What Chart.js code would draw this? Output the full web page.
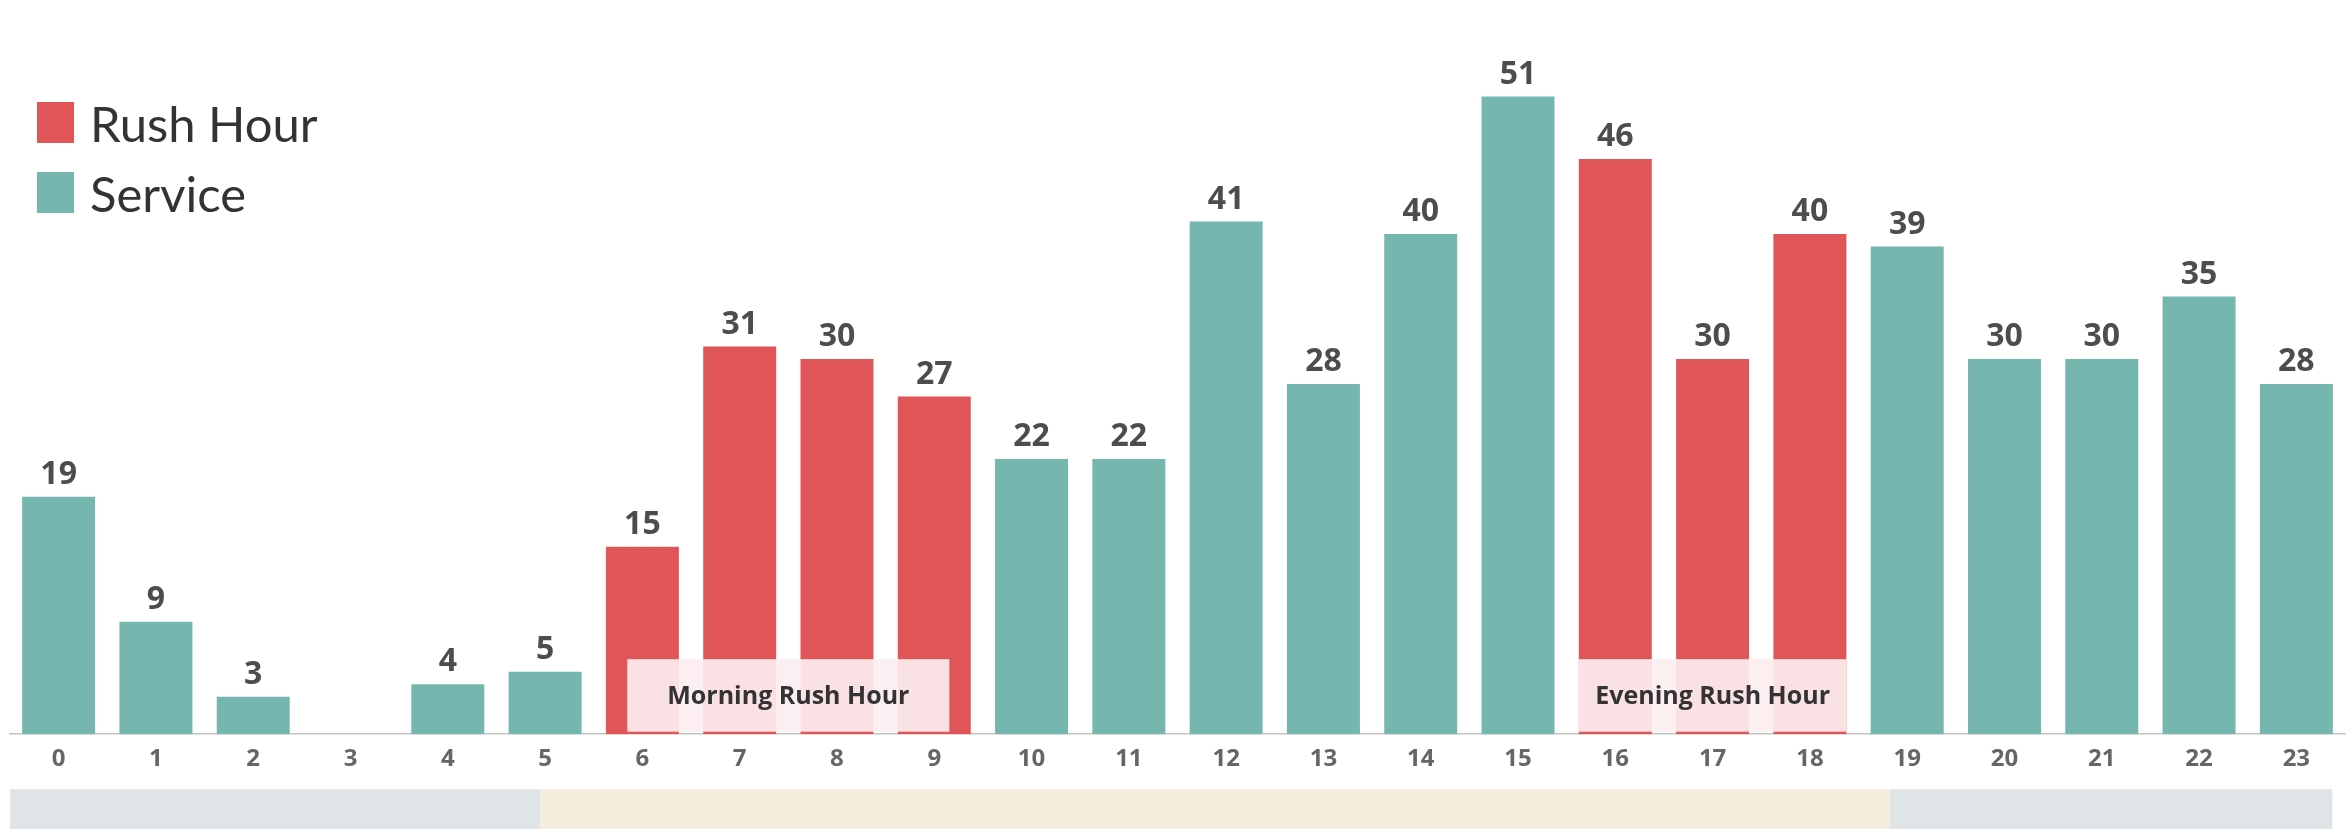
<!DOCTYPE html>
<html>
<head>
<meta charset="utf-8">
<script src="https://cdn.jsdelivr.net/npm/chart.js@4/dist/chart.umd.min.js"></script>
<style>
  html, body { margin: 0; padding: 0; background: #fff; }
  #wrap { width: 2351px; height: 829px; position: relative; }
</style>
</head>
<body>
<div id="wrap"><canvas id="hourChart"></canvas></div>
<script>
// hours of the day
const hours = ['0','1','2','3','4','5','6','7','8','9','10','11','12','13','14','15','16','17','18','19','20','21','22','23'];
// rush hour counts (null where the hour is a service hour)
const rushHour = [null,null,null,null,null,null,15,31,30,27,null,null,null,null,null,null,46,30,40,null,null,null,null,null];
// service counts
const service = [19,9,3,null,4,5,null,null,null,null,22,22,41,28,40,51,null,null,null,39,30,30,35,28];

const RED = '#e05558';
const TEAL = '#75b6af';
const FONT = "'Open Sans', sans-serif";

// shaded periods along the bottom strip, in category units
const periods = [
  { from: -0.5, to: 4.95, color: '#dfe5e7' },
  { from: 4.95, to: 18.82, color: '#f4ecdd' },
  { from: 18.82, to: 23.37, color: '#dfe5e7' }
];
// labelled boxes over the rush hour bars
const rushBoxes = [
  { from: 5.845, to: 9.155, label: 'Morning Rush Hour' },
  { from: 15.625, to: 18.375, label: 'Evening Rush Hour' }
];

const bandsPlugin = {
  id: 'bands',
  beforeDraw(chart) {
    const { ctx, scales: { x }, chartArea } = chart;
    const step = x.getPixelForValue(1) - x.getPixelForValue(0);
    ctx.save();
    periods.forEach(p => {
      const x0 = x.getPixelForValue(0) + p.from * step;
      const x1 = x.getPixelForValue(0) + p.to * step;
      ctx.fillStyle = p.color;
      ctx.fillRect(x0, chartArea.bottom + 55, x1 - x0, chart.height);
    });
    ctx.restore();
  }
};

const labelsPlugin = {
  id: 'overlays',
  afterDatasetsDraw(chart) {
    const { ctx, scales: { x, y } } = chart;
    const step = x.getPixelForValue(1) - x.getPixelForValue(0);
    ctx.save();
    // rush hour boxes
    rushBoxes.forEach(b => {
      const x0 = x.getPixelForValue(0) + b.from * step;
      const x1 = x.getPixelForValue(0) + b.to * step;
      const top = y.getPixelForValue(6);
      const bot = y.getPixelForValue(0.2);
      ctx.fillStyle = 'rgba(251,238,240,0.92)';
      ctx.fillRect(x0, top, x1 - x0, bot - top);
      ctx.fillStyle = '#333';
      ctx.font = 'bold 25px ' + FONT;
      ctx.textAlign = 'center';
      ctx.textBaseline = 'middle';
      ctx.fillText(b.label, (x0 + x1) / 2, (top + bot) / 2 + 1);
    });
    // value labels
    ctx.fillStyle = '#4d4d4d';
    ctx.font = 'bold 32px ' + FONT;
    ctx.textAlign = 'center';
    ctx.textBaseline = 'bottom';
    hours.forEach((h, i) => {
      const v = rushHour[i] != null ? rushHour[i] : service[i];
      if (v == null) return;
      ctx.fillText(String(v), x.getPixelForValue(i), y.getPixelForValue(v) - 6);
    });
    // legend
    const items = [['Rush Hour', RED, 102], ['Service', TEAL, 172]];
    ctx.font = '49px Lato, sans-serif';
    ctx.textAlign = 'left';
    ctx.textBaseline = 'alphabetic';
    items.forEach(([txt, col, top]) => {
      ctx.fillStyle = col;
      ctx.fillRect(37, top, 37, 41);
      ctx.fillStyle = '#333';
      ctx.fillText(txt, 90, top + 40);
    });
    ctx.restore();
  }
};

new Chart(document.getElementById('hourChart'), {
  type: 'bar',
  data: {
    labels: hours,
    datasets: [
      { label: 'Rush Hour', data: rushHour, backgroundColor: RED },
      { label: 'Service', data: service, backgroundColor: TEAL }
    ]
  },
  options: {
    responsive: true,
    maintainAspectRatio: false,
    animation: false,
    layout: { padding: { top: 9, left: 10, right: 6, bottom: 44 } },
    datasets: { bar: { categoryPercentage: 0.75, barPercentage: 1 } },
    plugins: { legend: { display: false }, tooltip: { enabled: false } },
    scales: {
      x: {
        stacked: true,
        grid: { display: false, drawTicks: false },
        border: { display: true, color: '#c4c4c4', width: 1.5, dash: [2, 2] },
        ticks: { color: '#666', font: { family: FONT, size: 24, weight: 'bold' }, padding: 11 }
      },
      y: {
        stacked: true,
        display: false,
        min: 0,
        max: 58
      }
    }
  },
  plugins: [bandsPlugin, labelsPlugin]
});
</script>
</body>
</html>
